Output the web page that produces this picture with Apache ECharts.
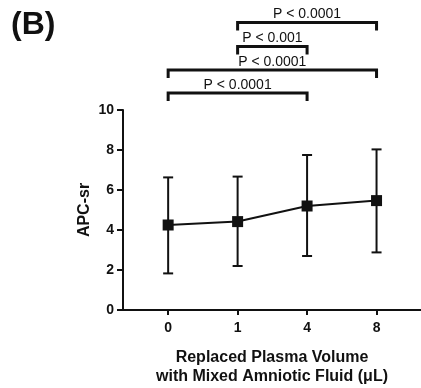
<!DOCTYPE html>
<html>
<head>
<meta charset="utf-8">
<script src="https://cdn.jsdelivr.net/npm/echarts@6/dist/echarts.min.js"></script>
<style>
html,body{margin:0;padding:0;background:#fff;}
#chart{width:421px;height:388px;}
</style>
</head>
<body>
<div id="chart"></div>
<script>
// Data
var categories = ['0', '1', '4', '8'];
var means = [4.25, 4.42, 5.2, 5.47];
var upper = [6.63, 6.67, 7.75, 8.03];
var lower = [1.83, 2.2, 2.7, 2.88];
var yTicks = [0, 2, 4, 6, 8, 10];
// significance brackets: [fromIndex, toIndex, level, label]
var brFrom = [0, 0, 1, 1];
var brTo = [2, 3, 2, 3];
var brLevel = [10.85, 12.0, 13.17, 14.38];
var brLabel = ['P < 0.0001', 'P < 0.0001', 'P < 0.001', 'P < 0.0001'];

var font = 'Liberation Sans, Arial, sans-serif';
var chart = echarts.init(document.getElementById('chart'));

var lineData = means.map(function (v, i) { return [i, v]; });
var errData = means.map(function (v, i) { return [i, lower[i], upper[i]]; });
var brData = brFrom.map(function (f, i) { return [f, brTo[i], brLevel[i], brLabel[i]]; });

chart.setOption({
  animation: false,
  backgroundColor: '#fff',
  graphic: [{
    type: 'text', left: 11, top: 9,
    style: { text: '(B)', font: 'bold 32px ' + font, fill: '#111' }
  }],
  grid: { left: 123, right: 0, top: 110, bottom: 78, containLabel: false, outerBoundsMode: 'none' },
  xAxis: {
    type: 'value', min: -0.65, max: 3.64,
    splitLine: { show: false },
    axisLine: { onZero: false, lineStyle: { color: '#111', width: 2 } },
    axisTick: { customValues: [0, 1, 2, 3], length: 5, lineStyle: { color: '#111', width: 2 } },
    axisLabel: {
      customValues: [0, 1, 2, 3],
      formatter: function (v) { return categories[Math.round(v)]; },
      color: '#111', fontWeight: 'bold', fontSize: 14, fontFamily: font, margin: 11
    },
    name: 'Replaced Plasma Volume\nwith Mixed Amniotic Fluid (μL)',
    nameLocation: 'middle', nameGap: 38, nameMoveOverlap: false,
    nameTextStyle: { color: '#111', fontWeight: 'bold', fontSize: 16, fontFamily: font, lineHeight: 19 }
  },
  yAxis: {
    type: 'value', min: 0, max: 10, interval: 2,
    splitLine: { show: false },
    axisLine: { show: true, onZero: false, lineStyle: { color: '#111', width: 2 } },
    axisTick: { show: true, length: 6, lineStyle: { color: '#111', width: 2 } },
    axisLabel: {
      formatter: function (v) { return yTicks.indexOf(v) >= 0 ? String(v) : ''; },
      color: '#111', fontWeight: 'bold', fontSize: 14, fontFamily: font, margin: 9
    },
    name: 'APC-sr', nameLocation: 'middle', nameGap: 30, nameRotate: 90, nameMoveOverlap: false,
    nameTextStyle: { color: '#111', fontWeight: 'bold', fontSize: 16, fontFamily: font }
  },
  series: [
    {
      type: 'custom',
      clip: false,
      data: errData,
      renderItem: function (params, api) {
        var x = api.value(0);
        var lo = api.coord([x, api.value(1)]);
        var hi = api.coord([x, api.value(2)]);
        var w = 5;
        var st = { stroke: '#111', lineWidth: 2 };
        return {
          type: 'group',
          children: [
            { type: 'line', shape: { x1: lo[0], y1: lo[1], x2: hi[0], y2: hi[1] }, style: st },
            { type: 'line', shape: { x1: lo[0] - w, y1: lo[1], x2: lo[0] + w, y2: lo[1] }, style: st },
            { type: 'line', shape: { x1: hi[0] - w, y1: hi[1], x2: hi[0] + w, y2: hi[1] }, style: st }
          ]
        };
      },
      z: 2
    },
    {
      type: 'line',
      data: lineData,
      symbol: 'rect', symbolSize: 11,
      lineStyle: { color: '#111', width: 2 },
      itemStyle: { color: '#111' },
      z: 3
    },
    {
      type: 'custom',
      clip: false,
      data: brData,
      renderItem: function (params, api) {
        var a = api.coord([api.value(0), api.value(2)]);
        var b = api.coord([api.value(1), api.value(2)]);
        var leg = 8;
        var st = { stroke: '#111', lineWidth: 3, fill: 'none' };
        return {
          type: 'group',
          children: [
            { type: 'polyline', shape: { points: [[a[0], a[1] + leg], [a[0], a[1]], [b[0], b[1]], [b[0], b[1] + leg]] }, style: st },
            { type: 'text', x: (a[0] + b[0]) / 2, y: a[1] - 1,
              style: { text: brLabel[params.dataIndex], font: '14px ' + font, fill: '#111', align: 'center', verticalAlign: 'bottom' } }
          ]
        };
      },
      z: 4
    }
  ]
});
</script>
</body>
</html>
